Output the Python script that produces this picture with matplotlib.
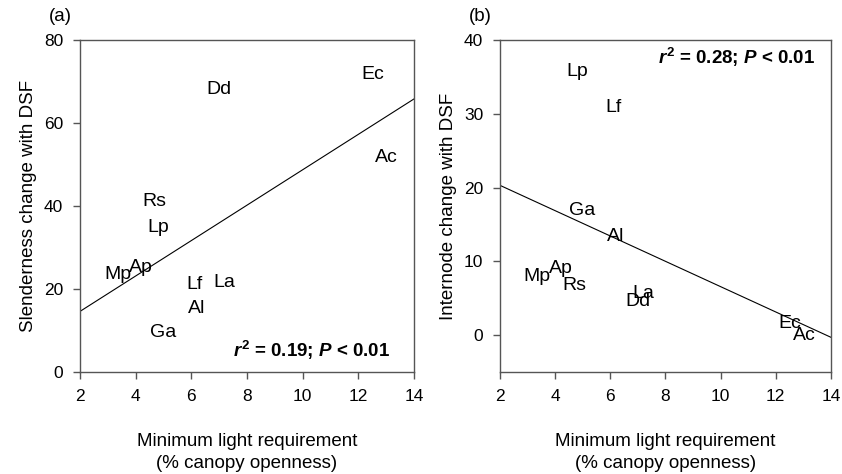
import matplotlib
matplotlib.use("Agg")
import matplotlib.pyplot as plt

plt.rcParams['font.family'] = ['Liberation Sans', 'DejaVu Sans']
plt.rcParams['mathtext.fontset'] = 'custom'
plt.rcParams['mathtext.it'] = 'Liberation Sans:bold:italic'
plt.rcParams['mathtext.rm'] = 'Liberation Sans:bold'
plt.rcParams['mathtext.bf'] = 'Liberation Sans:bold'

species = ['Ec', 'Dd', 'Ac', 'Rs', 'Lp', 'Mp', 'Ap', 'Lf', 'La', 'Al', 'Ga']
min_light = [12.52, 7.0, 13.02, 4.68, 4.8, 3.35, 4.2, 6.12, 7.18, 6.18, 4.98]
slenderness = [71.6, 68.0, 51.8, 41.0, 34.7, 23.4, 25.1, 21.0, 21.5, 15.4, 9.4]
internode = [1.6, 4.6, 0.0, 6.7, 35.7, 8.0, 9.0, 30.9, 5.7, 13.4, 16.9]

fit_x = [2, 14]
fit_a = [14.6, 65.8]
fit_b = [20.3, -0.3]

xticks = [2, 4, 6, 8, 10, 12, 14]
yticks_a = [0, 20, 40, 60, 80]
yticks_b = [0, 10, 20, 30, 40]

fig = plt.figure(figsize=(8.42, 4.74), dpi=100)
tick_fs = 12.5
lab_fs = 13.5
sp_fs = 14
axcol = '#555555'

def style(ax):
    for s in ax.spines.values():
        s.set_color(axcol)
        s.set_linewidth(1.0)
    ax.tick_params(direction='out', length=5, width=1.0, color=axcol,
                   labelsize=tick_fs, pad=7)

ax1 = fig.add_axes([0.0950, 0.2152, 0.3967, 0.7004])
ax2 = fig.add_axes([0.5938, 0.2152, 0.3931, 0.7004])

for ax, yv, fit, yt, ylim, ylab, panel in [
        (ax1, slenderness, fit_a, yticks_a, (0, 80), 'Slenderness change with DSF', '(a)'),
        (ax2, internode, fit_b, yticks_b, (-5, 40), 'Internode change with DSF', '(b)')]:
    style(ax)
    ax.set_xlim(2, 14)
    ax.set_ylim(*ylim)
    ax.set_xticks(xticks)
    ax.set_yticks(yt)
    ax.plot(fit_x, fit, color='black', lw=0.8)
    for s, x, y in zip(species, min_light, yv):
        ax.text(x, y, s, ha='center', va='center', fontsize=sp_fs)
    ax.set_ylabel(ylab, fontsize=lab_fs, labelpad=5)
    ax.set_xlabel('Minimum light requirement\n(% canopy openness)', fontsize=lab_fs,
                  labelpad=21, linespacing=1.4)
    ax.text(-0.06, 1.07, panel, transform=ax.transAxes, fontsize=lab_fs,
            ha='center', va='center')

ax1.text(13.14, 5.1, r'$r^{2}$ = 0.19; $P$ < 0.01', ha='right', va='center',
         fontsize=lab_fs, fontweight='bold')
ax2.text(13.42, 37.7, r'$r^{2}$ = 0.28; $P$ < 0.01', ha='right', va='center',
         fontsize=lab_fs, fontweight='bold')

fig.savefig('out.png', dpi=100)
